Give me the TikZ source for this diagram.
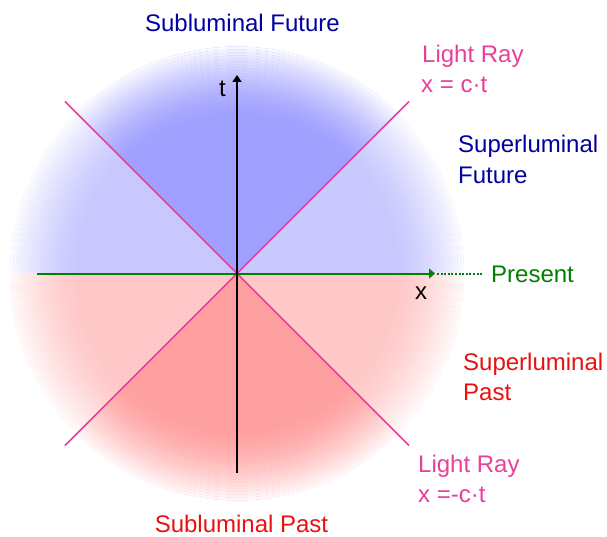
\documentclass[tikz,border=0pt]{standalone}
\usepackage{fontspec}
\setmainfont{Liberation Sans}
\usetikzlibrary{arrows.meta}
\definecolor{lblue}{HTML}{C8C8FF}
\definecolor{dblue}{HTML}{A0A0FF}
\definecolor{lpink}{HTML}{FFC8C8}
\definecolor{dpink}{HTML}{FFA0A0}
\definecolor{navy}{HTML}{0000A0}
\definecolor{myred}{HTML}{E81010}
\definecolor{raycol}{HTML}{E8409A}
\definecolor{mygreen}{HTML}{008000}
\begin{document}
\begin{tikzpicture}[x=1pt,y=1pt,
  lbl/.style={inner sep=0pt, font=\fontsize{24}{28}\selectfont, anchor=base west},
  ray/.style={draw=raycol, line width=1.6pt},
  taxis/.style={draw=black, line width=2.2pt, -{Triangle[width=9pt,length=7pt]}},
  xaxis/.style={draw=mygreen, line width=2pt, -{Triangle[width=10pt,length=6pt]}},
  xdots/.style={draw=mygreen, line width=2pt, dash pattern=on 2pt off 1.6pt}]
\useasboundingbox (0,0) rectangle (607,536);
\coordinate (O) at (237,262.5);
% colored disk
\fill[lblue] (O) -- ++(0:228pt) arc[start angle=0,end angle=180,radius=228pt] -- cycle;
\fill[dblue] (O) -- ++(45:228pt) arc[start angle=45,end angle=135,radius=228pt] -- cycle;
\fill[lpink] (O) -- ++(180:228pt) arc[start angle=180,end angle=360,radius=228pt] -- cycle;
\fill[dpink] (O) -- ++(225:228pt) arc[start angle=225,end angle=315,radius=228pt] -- cycle;
% fading edge
\foreach \i in {0,...,25} {
  \pgfmathsetmacro\ra{155+3*\i}
  \pgfmathsetmacro\rb{\ra+3}
  \pgfmathsetmacro\op{min(1,((\ra+1.5-155)/74)^1.6)}
  \fill[white, opacity=\op, even odd rule] (O) circle[radius=\ra pt] (O) circle[radius=\rb pt];
}
% light rays
\coordinate (UL) at (65,434.5);
\coordinate (UR) at (409,434.5);
\coordinate (LL) at (65,90.5);
\coordinate (LR) at (409,90.5);
\path[ray] (UL) -- (LR);
\path[ray] (UR) -- (LL);
% axes
\coordinate (xl) at (37,262.5);
\coordinate (xr) at (435,262.5);
\coordinate (xd1) at (437,262.5);
\coordinate (xd2) at (483,262.5);
\path[xaxis] (xl) -- (xr);
\path[xdots] (xd1) -- (xd2);
\coordinate (tb) at (237,63);
\coordinate (tt) at (237,461);
\path[taxis] (tb) -- (tt);
% labels
\node[lbl, anchor=base, text=navy] (sf) at (242.5,504) {Subluminal Future};
\node[lbl, anchor=base, text=myred] (sp) at (241.5,4) {Subluminal Past};
\node[lbl, text=raycol] (lr1) at (422,473) {Light Ray};
\node[lbl, text=raycol] (eq1) at (421,443) {x = c·t};
\node[lbl, text=navy] (suf1) at (458,383) {Superluminal};
\node[lbl, text=navy] (suf2) at (458,352) {Future};
\node[lbl, text=mygreen] (pr) at (491,254) {Present};
\node[lbl, text=myred] (sup1) at (463,166) {Superluminal};
\node[lbl, text=myred] (sup2) at (463,136) {Past};
\node[lbl, text=raycol] (lr2) at (418,64) {Light Ray};
\node[lbl, text=raycol] (eq2) at (418,34) {x =-c·t};
\node[lbl, text=black] (tl) at (219,439) {t};
\node[lbl, text=black] (xlab) at (415,237) {x};
\end{tikzpicture}
\end{document}
